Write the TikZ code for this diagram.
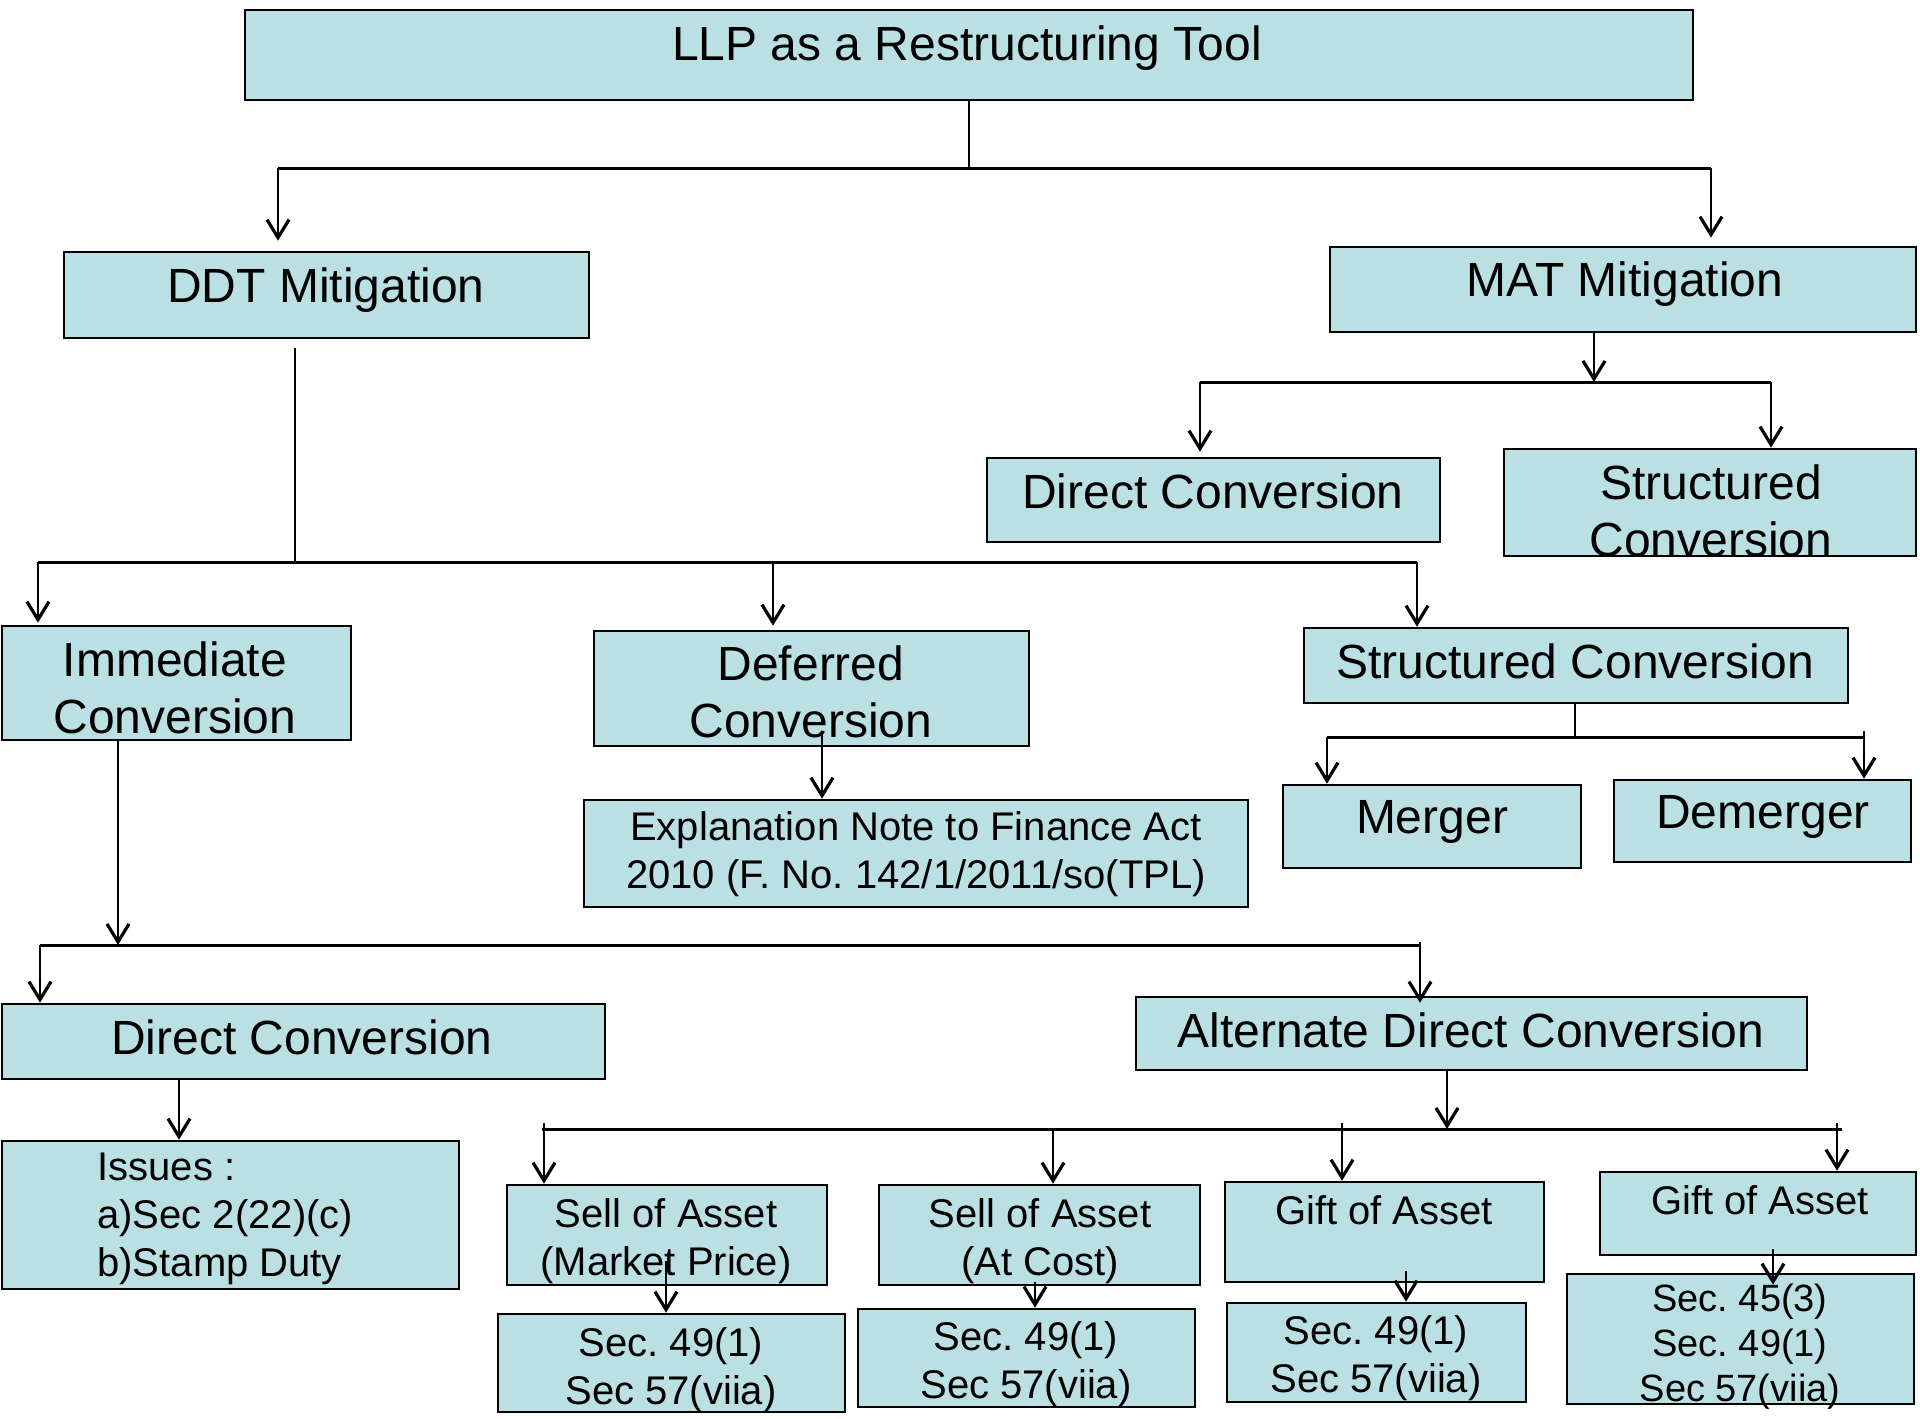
\documentclass[tikz,border=0pt]{standalone}
\usepackage{fontspec}
\setmainfont{Liberation Sans}
\usetikzlibrary{arrows.meta}
\definecolor{boxfill}{RGB}{187,224,227}
\frenchspacing

\begin{document}
\begin{tikzpicture}[x=0.5pt,y=0.5pt,yscale=-1,xscale=1,
  box/.style={draw, line width=1.3pt, fill=boxfill, inner sep=0pt, rectangle},
  big/.style={font=\fontsize{24pt}{28.8pt}\selectfont, align=center, anchor=north, inner sep=0pt},
  small/.style={font=\fontsize{20pt}{24pt}\selectfont, align=center, anchor=north, inner sep=0pt},
  bus/.style={line width=1.5pt},
  stem/.style={line width=0.8pt},
  arr/.style={line width=0.8pt, -{Straight Barb[length=9pt,width=11pt,line width=1.6pt]}}]
\useasboundingbox (0,0) rectangle (1920,1418);

%Shape: Rectangle [id:top]
\node[box, minimum width=724pt, minimum height=45pt] (top) at (969,55) {};
\node[big] (toplbl) at (967,25) {LLP as a Restructuring Tool};

%Shape: Rectangle [id:ddt]
\node[box, minimum width=262.5pt, minimum height=43pt] (ddt) at (326.5,295) {};
\node[big] (ddtlbl) at (326,267) {DDT Mitigation};
%Shape: Rectangle [id:mat]
\node[box, minimum width=293pt, minimum height=42.5pt] (mat) at (1623,289.5) {};
\node[big] (matlbl) at (1625,261) {MAT Mitigation};

%Shape: Rectangle [id:matdc]
\node[box, minimum width=226.5pt, minimum height=42pt] (matdc) at (1213.5,500) {};
\node[big] (matdclbl) at (1213,473) {Direct Conversion};
%Shape: Rectangle [id:matsc]
\node[box, minimum width=206pt, minimum height=53.5pt] (matsc) at (1710,502.5) {};
\node[big] (matsclbl) at (1711,464) {Structured\\Conversion};

%Shape: Rectangle [id:imm]
\node[box, minimum width=174.5pt, minimum height=57pt] (imm) at (176.5,683) {};
\node[big] (immlbl) at (175,641) {Immediate\\Conversion};
%Shape: Rectangle [id:def]
\node[box, minimum width=217.5pt, minimum height=57.5pt] (def) at (811.5,688.5) {};
\node[big] (deflbl) at (811,645) {Deferred\\Conversion};
%Shape: Rectangle [id:sc]
\node[box, minimum width=272pt, minimum height=37.5pt] (sc) at (1576,665.5) {};
\node[big] (sclbl) at (1575,643) {Structured Conversion};

%Shape: Rectangle [id:mer]
\node[box, minimum width=149pt, minimum height=41.5pt] (mer) at (1432,826.5) {};
\node[big] (merlbl) at (1432,800) {Merger};
%Shape: Rectangle [id:dem]
\node[box, minimum width=148.5pt, minimum height=41pt] (dem) at (1762.5,821) {};
\node[big] (demlbl) at (1763,795) {Demerger};
%Shape: Rectangle [id:expl]
\node[box, minimum width=332pt, minimum height=53.5pt] (expl) at (916,853.5) {};
\node[small] (expllbl) at (916,811) {Explanation Note to Finance Act\\2010 (F. No. 142/1/2011/so(TPL)};

%Shape: Rectangle [id:dc]
\node[box, minimum width=301.5pt, minimum height=37.5pt] (dc) at (303.5,1041.5) {};
\node[big] (dclbl) at (302,1019) {Direct Conversion};
%Shape: Rectangle [id:adc]
\node[box, minimum width=335.5pt, minimum height=36.5pt] (adc) at (1471.5,1033.5) {};
\node[big] (adclbl) at (1471,1012) {Alternate Direct Conversion};

%Shape: Rectangle [id:iss]
\node[box, minimum width=228.5pt, minimum height=74pt] (iss) at (230.5,1215) {};
\node[small, align=left, anchor=north west] (isslbl) at (97,1153) {Issues :\\a)Sec 2(22)(c)\\b)Stamp Duty};

%Shape: Rectangle [id:smp]
\node[box, minimum width=160pt, minimum height=50pt] (smp) at (667,1235) {};
\node[small] (smplbl) at (666,1198) {Sell of Asset\\(Market Price)};
%Shape: Rectangle [id:sac]
\node[box, minimum width=160.5pt, minimum height=50pt] (sac) at (1039.5,1235) {};
\node[small] (saclbl) at (1040,1198) {Sell of Asset\\(At Cost)};
%Shape: Rectangle [id:ga1]
\node[box, minimum width=159.5pt, minimum height=50pt] (gaa) at (1384.5,1232) {};
\node[small] (gaalbl) at (1384,1195) {Gift of Asset};
%Shape: Rectangle [id:ga2]
\node[box, minimum width=158pt, minimum height=41.5pt] (gab) at (1758,1213.5) {};
\node[small] (gablbl) at (1760,1185) {Gift of Asset};

%Shape: Rectangle [id:sec1]
\node[box, minimum width=173.5pt, minimum height=49pt] (seca) at (671.5,1363) {};
\node[small] (secalbl) at (671,1327) {Sec. 49(1)\\Sec 57(viia)};
%Shape: Rectangle [id:sec2]
\node[box, minimum width=168.5pt, minimum height=49pt] (secb) at (1026.5,1358) {};
\node[small] (secblbl) at (1026,1321) {Sec. 49(1)\\Sec 57(viia)};
%Shape: Rectangle [id:sec3]
\node[box, minimum width=149.5pt, minimum height=49.5pt] (secc) at (1376.5,1352.5) {};
\node[small] (secclbl) at (1376,1315) {Sec. 49(1)\\Sec 57(viia)};
%Shape: Rectangle [id:sec4]
\node[box, minimum width=173.5pt, minimum height=65pt] (secd) at (1740.5,1339) {};
\node[small, font=\fontsize{19pt}{22.5pt}\selectfont] (secdlbl) at (1740,1284) {Sec. 45(3)\\Sec. 49(1)\\Sec 57(viia)};

%Straight Lines [id:top-bus]
\coordinate (b1) at (970,168);
\coordinate (b1l) at (278,168);
\coordinate (b1r) at (1711,168);
\draw[stem] (top.south) -- (top.south |- b1);
\draw[bus] (b1l) -- (b1r);
\draw[arr, shorten >=5pt] (b1l) -- (b1l |- ddt.north);
\draw[arr, shorten >=4pt] (b1r) -- (b1r |- mat.north);

%Straight Lines [id:mat-bus]
\coordinate (b2) at (1594,382);
\coordinate (b2l) at (1200,382);
\coordinate (b2r) at (1771,382);
\draw[arr] (b2 |- mat.south) -- (b2);
\draw[bus] (b2l) -- (b2r);
\draw[arr, shorten >=2.5pt] (b2l) -- (b2l |- matdc.north);
\draw[arr] (b2r) -- (b2r |- matsc.north);

%Straight Lines [id:ddt-bus]
\coordinate (b3) at (295,562);
\coordinate (b3l) at (38,562);
\coordinate (b3m) at (773,562);
\coordinate (b3r) at (1417,562);
\draw[stem, shorten <=4.5pt] (b3 |- ddt.south) -- (b3);
\draw[bus] (b3l) -- (b3r);
\draw[arr, shorten >=1pt] (b3l) -- (b3l |- imm.north);
\draw[arr, shorten >=2pt] (b3m) -- (b3m |- def.north);
\draw[arr] (b3r) -- (b3r |- sc.north);

%Straight Lines [id:sc-bus]
\coordinate (b4) at (1575,737);
\coordinate (b4l) at (1327,737);
\coordinate (b4r) at (1864,731);
\draw[stem] (b4 |- sc.south) -- (b4);
\draw[bus] (b4l) -- (b4 -| b4r);
\draw[arr] (b4l) -- (b4l |- mer.north);
\draw[arr] (b4r) -- (b4r |- dem.north);

%Straight Lines [id:def-expl]
\coordinate (c1) at (822,735);
\draw[arr] (c1) -- (c1 |- expl.north);

%Straight Lines [id:imm-bus]
\coordinate (b5) at (118,945);
\coordinate (b5l) at (40,945);
\coordinate (b5r) at (1420,942);
\draw[arr] (b5 |- imm.south) -- (b5);
\draw[bus] (b5l) -- (b5 -| b5r);
\draw[arr] (b5l) -- (b5l |- dc.north);
\draw[arr, shorten >=-3.5pt] (b5r) -- (b5r |- adc.north);

%Straight Lines [id:dc-iss]
\coordinate (c2) at (179,1110);
\draw[arr] (c2 |- dc.south) -- (c2 |- iss.north);

%Straight Lines [id:adc-bus]
\coordinate (b6) at (1447,1129);
\coordinate (b6l) at (542,1129);
\coordinate (b6r) at (1842,1129);
\draw[arr] (b6 |- adc.south) -- (b6);
\draw[bus] (b6l) -- (b6r);
\coordinate (s1) at (544,1123);
\coordinate (s2) at (1053,1129);
\coordinate (s3) at (1342,1123);
\coordinate (s4) at (1837,1123);
\draw[arr] (s1) -- (s1 |- smp.north);
\draw[arr] (s2) -- (s2 |- sac.north);
\draw[arr] (s3) -- (s3 |- gaa.north);
\draw[arr] (s4) -- (s4 |- gab.north);

%Straight Lines [id:sec-links]
\coordinate (t1) at (666,1261);
\coordinate (t2) at (1035,1282);
\coordinate (t3) at (1406,1271);
\coordinate (t4) at (1773,1249);
\draw[arr] (t1) -- (t1 |- seca.north);
\draw[arr] (t2) -- (t2 |- secb.north);
\draw[arr] (t3) -- (t3 |- secc.north);
\draw[arr, shorten >=-6pt] (t4) -- (t4 |- secd.north);

\end{tikzpicture}
\end{document}
